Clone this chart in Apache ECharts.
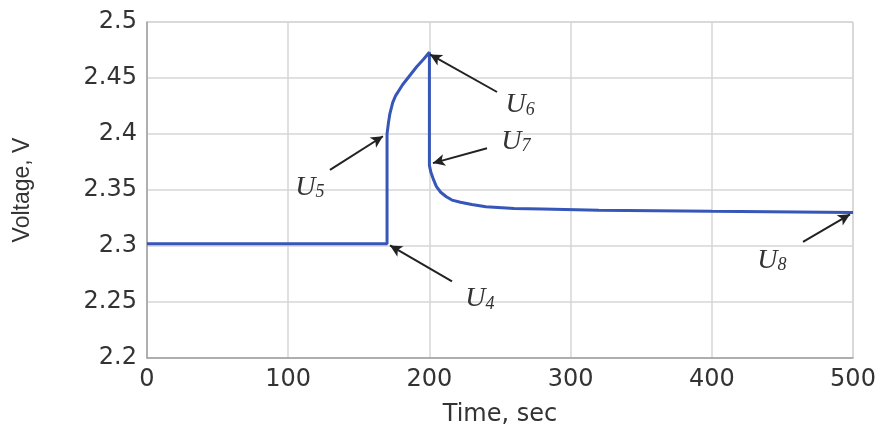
<!DOCTYPE html>
<html>
<head>
<meta charset="utf-8">
<script src="https://cdn.jsdelivr.net/npm/echarts@6/dist/echarts.min.js"></script>
<style>html,body{margin:0;padding:0;background:#fff}#c{width:885px;height:432px}</style>
</head>
<body>
<div id="c"></div>
<script>
// Time (s) and voltage (V)
const flatTime = [0, 170];
const flatVolt = [2.302, 2.302];
const riseTime = [170, 170, 171, 172, 174, 176, 181, 186, 191, 196, 200];
const riseVolt = [2.302, 2.400, 2.410, 2.418, 2.428, 2.434, 2.444, 2.452, 2.460, 2.467, 2.473];
const decayTime = [200, 201, 203, 205, 208, 212, 216, 222, 230, 240, 260, 280, 320, 400, 500];
const decayVolt = [2.372, 2.366, 2.359, 2.353, 2.348, 2.344, 2.341, 2.339, 2.337, 2.335, 2.3335, 2.333, 2.332, 2.331, 2.330];

const xTicks = [0, 100, 200, 300, 400, 500];
const yTicks = [2.2, 2.25, 2.3, 2.35, 2.4, 2.45, 2.5];

// Annotation labels and arrows
const annoNames = ['U', 'U', 'U', 'U', 'U'];
const annoSubs = ['4', '5', '6', '7', '8'];
const annoLabelT = [235.8, 115.4, 264.2, 261.3, 442.6];
const annoLabelV = [2.2526, 2.3521, 2.4261, 2.3935, 2.287];
const arrowTailT = [216, 129.6, 247.9, 240.8, 464.6];
const arrowTailV = [2.2685, 2.368, 2.4375, 2.3873, 2.3037];
const arrowTipT = [172.1, 167.1, 200.4, 202.5, 497.9];
const arrowTipV = [2.3005, 2.398, 2.471, 2.374, 2.3283];

const curve = [];
flatTime.forEach((t, i) => curve.push([t, flatVolt[i]]));
riseTime.forEach((t, i) => curve.push([t, riseVolt[i]]));
decayTime.forEach((t, i) => curve.push([t, decayVolt[i]]));

const arrows = arrowTipT.map((t, i) => [
  { coord: [arrowTailT[i], arrowTailV[i]], symbol: 'none' },
  { coord: [t, arrowTipV[i]], symbol: 'arrow', symbolSize: [9, 12] }
]);
const labels = annoSubs.map((s, i) => ({
  coord: [annoLabelT[i], annoLabelV[i]],
  value: annoNames[i] + '|' + s
}));

const chart = echarts.init(document.getElementById('c'), null, { renderer: 'canvas' });
chart.setOption({
  animation: false,
  backgroundColor: '#ffffff',
  grid: { left: 147, right: 32, top: 22, bottom: 69, show: true, borderColor: '#c4c4c4', borderWidth: 1 },
  xAxis: {
    type: 'value', min: 0, max: 500, interval: 100,
    name: 'Time, sec', nameLocation: 'middle', nameGap: 45,
    nameTextStyle: { fontFamily: 'DejaVu Sans', fontSize: 24, color: '#333' },
    axisLine: { show: true, lineStyle: { color: '#a0a0a0', width: 1.5 } },
    axisTick: { show: false },
    axisLabel: { fontFamily: 'DejaVu Sans', fontSize: 24, color: '#333', margin: 10,
      formatter: v => xTicks.includes(v) ? String(v) : '' },
    splitLine: { show: true, lineStyle: { color: '#d6d6d6', width: 1.5 } }
  },
  yAxis: {
    type: 'value', min: 2.2, max: 2.5, interval: 0.05,
    name: 'Voltage, V', nameLocation: 'middle', nameGap: 113, nameRotate: 90,
    nameTextStyle: { fontFamily: 'Liberation Sans', fontSize: 23, color: '#333' },
    axisLine: { show: true, lineStyle: { color: '#a0a0a0', width: 1.5 } },
    axisTick: { show: false },
    axisLabel: { fontFamily: 'DejaVu Sans', fontSize: 24, color: '#333', margin: 10,
      formatter: v => {
        const m = yTicks.find(t => Math.abs(t - v) < 1e-6);
        return m === undefined ? '' : String(m);
      } },
    splitLine: { show: true, lineStyle: { color: '#d6d6d6', width: 1.5 } }
  },
  series: [{
    type: 'line',
    data: curve,
    showSymbol: false,
    smooth: false,
    lineStyle: { color: '#3656b8', width: 3 },
    silent: true,
    markLine: {
      silent: true,
      symbol: ['none', 'arrow'],
      symbolSize: 12,
      label: { show: false },
      lineStyle: { color: '#222', width: 2, type: 'solid' },
      emphasis: { disabled: true },
      data: arrows
    },
    markPoint: {
      silent: true,
      symbol: 'circle',
      symbolSize: 1,
      itemStyle: { color: 'rgba(0,0,0,0)' },
      label: {
        show: true,
        position: 'inside',
        formatter: p => {
          const parts = p.value.split('|');
          return '{u|' + parts[0] + '}{s|' + parts[1] + '}';
        },
        rich: {
          u: { fontFamily: 'Liberation Serif', fontStyle: 'italic', fontSize: 28, color: '#333', lineHeight: 28 },
          s: { fontFamily: 'Liberation Serif', fontStyle: 'italic', fontSize: 18, color: '#333', lineHeight: 13, verticalAlign: 'bottom' }
        }
      },
      data: labels
    }
  }]
});
</script>
</body>
</html>
